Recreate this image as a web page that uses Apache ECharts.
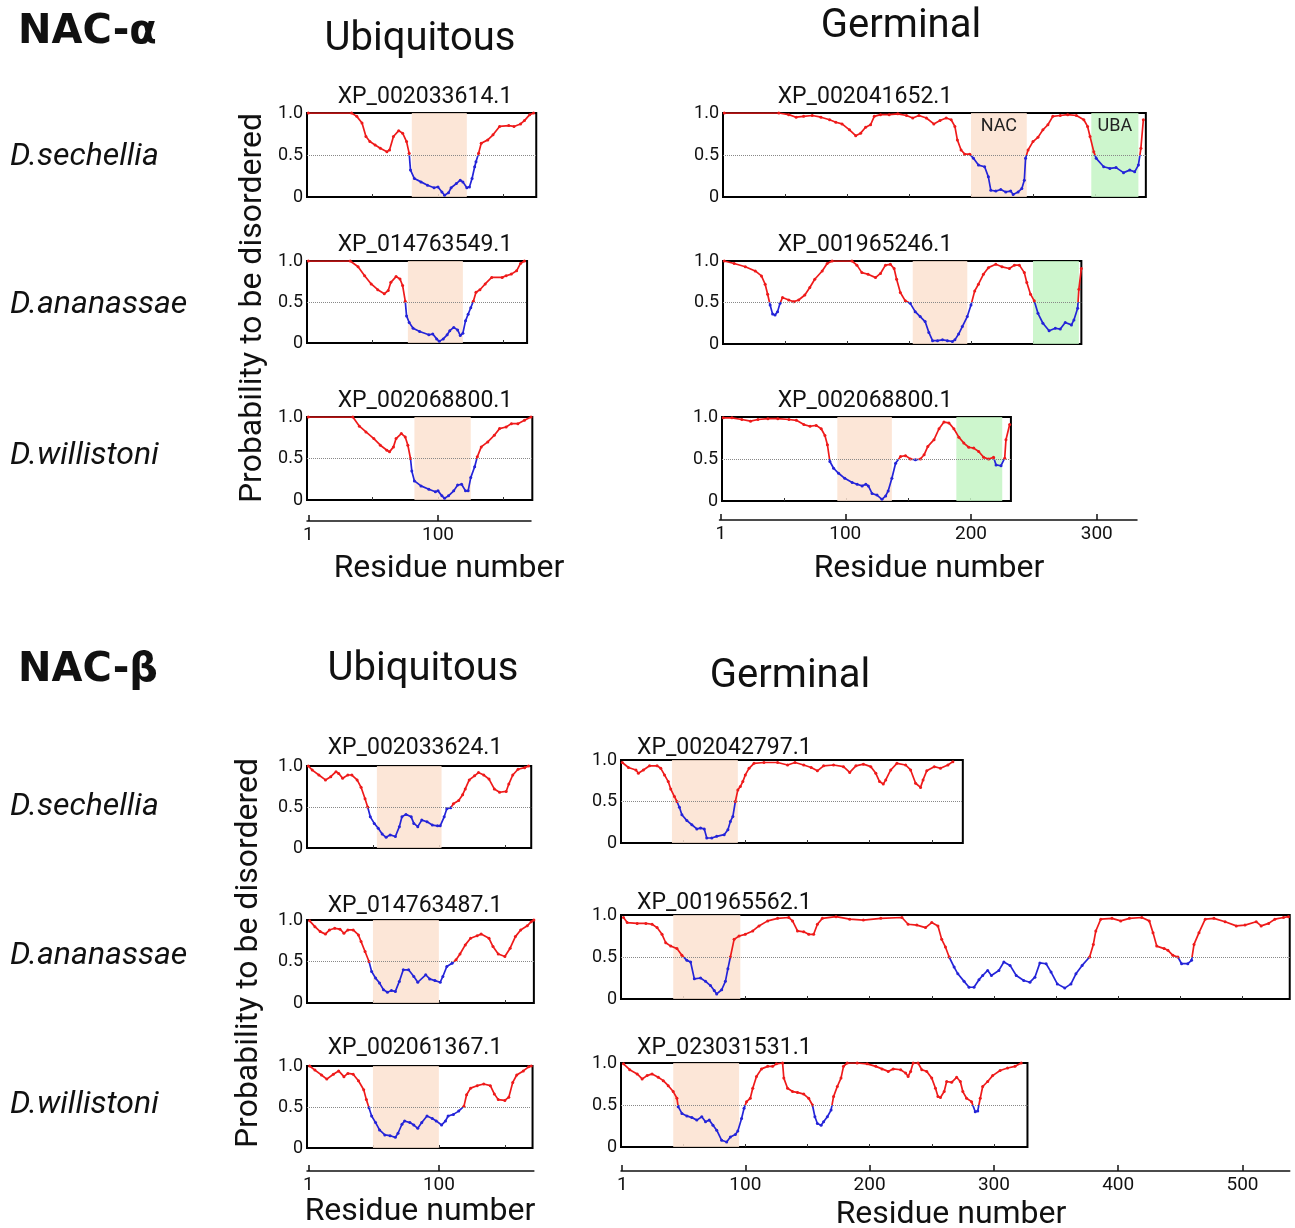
<!DOCTYPE html>
<html><head><meta charset="utf-8">
<script src="https://cdn.jsdelivr.net/npm/echarts@6/dist/echarts.min.js"></script>
<style>html,body{margin:0;padding:0;background:#fff}#c{width:1295px;height:1228px}</style>
</head><body><div id="c"></div>
<script>
// ---------------- DATA ----------------
const sectionTitles = ['NAC-α', 'NAC-β'];
const columnTitles = ['Ubiquitous', 'Germinal'];
const species = ['D.sechellia', 'D.ananassae', 'D.willistoni'];
const yTitle = 'Probability to be disordered';
const xTitle = 'Residue number';
const yTickLabels = {0: '0', 0.5: '0.5', 1: '1.0'};

const accessions = {
  aU1: 'XP_002033614.1', aU2: 'XP_014763549.1', aU3: 'XP_002068800.1',
  aG1: 'XP_002041652.1', aG2: 'XP_001965246.1', aG3: 'XP_002068800.1',
  bU1: 'XP_002033624.1', bU2: 'XP_014763487.1', bU3: 'XP_002061367.1',
  bG1: 'XP_002042797.1', bG2: 'XP_001965562.1', bG3: 'XP_023031531.1'
};
const proteinLength = {aU1:175, aU2:168, aU3:172, aG1:341, aG2:289, aG3:233,
  bU1:170, bU2:172, bU3:171, bG1:275, bG2:538, bG3:327};
const domains = {
  aU1: [[80,122,'NAC']], aU2: [[77,119,'NAC']], aU3: [[82,125,'NAC']],
  aG1: [[200,245,'NAC'],[297,335,'UBA']], aG2: [[153,197,'NAC'],[250,287,'UBA']], aG3: [[93,137,'NAC'],[189,226,'UBA']],
  bU1: [[53,102,'NAC']], bU2: [[50,100,'NAC']], bU3: [[50,100,'NAC']],
  bG1: [[41,94,'NAC']], bG2: [[42,96,'NAC']], bG3: [[42,95,'NAC']]
};
const domainLabelled = {aG1: true};
const axisTicksU = [1, 100];
const axisTicksAG = [1, 100, 200, 300];
const axisTicksBG = [1, 100, 200, 300, 400, 500];

// disorder profiles [residue, probability]
const aU1 = [[1,1.0],[34,1.0],[38,0.96],[42,0.88],[45,0.72],[48,0.66],[52,0.62],[56,0.58],[61,0.54],[63,0.56],[66,0.72],[70,0.79],[73,0.76],[76,0.66],[78,0.52],[79,0.32],[82,0.22],[87,0.18],[92,0.14],[97,0.11],[100,0.12],[103,0.06],[105,0.02],[108,0.05],[110,0.11],[114,0.16],[117,0.20],[119,0.18],[122,0.11],[124,0.12],[126,0.22],[128,0.36],[129,0.42],[131,0.52],[133,0.64],[138,0.68],[142,0.74],[147,0.84],[154,0.85],[158,0.84],[163,0.87],[166,0.91],[170,0.98],[173,1.0]];
const aU2 = [[1,1.0],[33,1.0],[39,0.93],[44,0.82],[49,0.72],[54,0.65],[59,0.60],[62,0.64],[64,0.74],[68,0.81],[71,0.78],[73,0.70],[75,0.51],[76,0.33],[78,0.25],[81,0.18],[86,0.14],[93,0.10],[96,0.11],[99,0.05],[101,0.02],[104,0.05],[107,0.10],[109,0.15],[112,0.19],[115,0.16],[117,0.09],[119,0.12],[121,0.27],[123,0.35],[125,0.43],[127,0.51],[129,0.62],[132,0.65],[136,0.72],[141,0.80],[149,0.80],[152,0.82],[156,0.84],[160,0.88],[163,0.97],[166,1.0]];
const aU3 = [[1,1.0],[35,1.0],[40,0.89],[45,0.82],[51,0.74],[56,0.66],[61,0.60],[63,0.58],[66,0.64],[68,0.74],[72,0.80],[75,0.76],[77,0.66],[79,0.50],[80,0.35],[82,0.23],[87,0.17],[93,0.13],[98,0.10],[100,0.11],[103,0.05],[105,0.02],[108,0.05],[112,0.11],[115,0.18],[118,0.19],[121,0.11],[123,0.11],[125,0.27],[128,0.40],[130,0.52],[133,0.64],[138,0.70],[143,0.78],[147,0.86],[152,0.88],[156,0.92],[161,0.92],[166,0.96],[171,1.0]];
const aG1 = [[1,1.0],[45,1.0],[53,0.98],[59,0.95],[65,0.96],[72,0.97],[79,0.95],[86,0.92],[91,0.89],[96,0.87],[102,0.80],[107,0.73],[111,0.76],[115,0.83],[119,0.86],[122,0.96],[127,0.98],[134,0.98],[141,0.99],[148,0.97],[153,0.94],[158,0.97],[164,0.94],[170,0.87],[175,0.91],[180,0.94],[184,0.92],[187,0.84],[189,0.68],[192,0.56],[195,0.51],[199,0.51],[202,0.46],[206,0.38],[211,0.36],[214,0.24],[216,0.08],[220,0.07],[224,0.09],[228,0.06],[232,0.07],[234,0.03],[238,0.06],[241,0.10],[243,0.20],[244,0.46],[246,0.56],[250,0.66],[254,0.71],[258,0.80],[262,0.86],[266,0.96],[272,0.97],[278,0.98],[285,0.97],[291,0.92],[294,0.84],[296,0.72],[299,0.54],[301,0.46],[307,0.36],[312,0.34],[317,0.35],[323,0.29],[328,0.32],[332,0.30],[335,0.38],[337,0.58],[339,0.92]];
const aG2 = [[1,1.0],[9,0.97],[18,0.93],[26,0.88],[31,0.82],[34,0.72],[36,0.60],[38,0.47],[40,0.36],[42,0.35],[44,0.39],[46,0.49],[48,0.56],[53,0.53],[57,0.51],[61,0.53],[66,0.59],[70,0.68],[74,0.78],[80,0.88],[84,0.97],[88,1.0],[104,1.0],[108,0.95],[112,0.86],[117,0.84],[123,0.80],[127,0.85],[131,0.95],[135,0.96],[138,0.91],[140,0.78],[143,0.62],[147,0.52],[151,0.49],[155,0.39],[159,0.33],[163,0.27],[166,0.14],[169,0.04],[173,0.04],[177,0.05],[181,0.04],[185,0.03],[187,0.05],[190,0.12],[193,0.21],[197,0.33],[200,0.47],[203,0.64],[206,0.72],[210,0.84],[214,0.92],[220,0.96],[225,0.93],[231,0.91],[235,0.95],[239,0.95],[243,0.86],[245,0.74],[248,0.60],[251,0.52],[254,0.37],[258,0.25],[263,0.16],[268,0.19],[272,0.18],[276,0.26],[281,0.23],[283,0.29],[286,0.43],[287,0.66],[289,0.91]];
const aG3 = [[1,0.99],[8,0.99],[16,0.97],[23,0.95],[29,0.97],[37,0.98],[45,0.98],[54,0.97],[60,0.96],[66,0.91],[71,0.89],[76,0.90],[80,0.86],[83,0.78],[85,0.67],[87,0.47],[90,0.39],[94,0.33],[99,0.27],[105,0.22],[109,0.20],[113,0.18],[116,0.20],[118,0.18],[121,0.09],[125,0.07],[129,0.02],[132,0.06],[134,0.12],[137,0.27],[140,0.45],[144,0.53],[148,0.54],[152,0.50],[156,0.49],[160,0.50],[163,0.55],[166,0.65],[171,0.73],[175,0.86],[179,0.94],[183,0.93],[187,0.86],[191,0.76],[195,0.69],[199,0.64],[203,0.63],[207,0.59],[211,0.52],[215,0.50],[219,0.52],[221,0.43],[225,0.42],[228,0.51],[229,0.73],[232,0.91]];
const bU1 = [[1,1.0],[4,0.95],[9,0.89],[14,0.83],[18,0.87],[22,0.93],[24,0.91],[27,0.85],[31,0.89],[34,0.89],[38,0.83],[41,0.74],[44,0.60],[46,0.50],[48,0.38],[51,0.30],[54,0.24],[57,0.17],[60,0.13],[63,0.16],[67,0.14],[70,0.26],[72,0.38],[75,0.41],[79,0.38],[81,0.30],[84,0.26],[87,0.34],[91,0.32],[95,0.28],[99,0.27],[101,0.27],[104,0.38],[106,0.48],[109,0.49],[111,0.54],[115,0.58],[118,0.65],[120,0.72],[123,0.83],[127,0.88],[130,0.92],[134,0.89],[138,0.84],[142,0.72],[146,0.68],[151,0.69],[153,0.78],[156,0.89],[160,0.96],[165,0.98],[168,1.0]];
const bU2 = [[2,0.99],[6,0.92],[10,0.86],[14,0.83],[17,0.88],[21,0.90],[25,0.89],[28,0.84],[31,0.88],[35,0.88],[39,0.82],[41,0.74],[44,0.62],[47,0.50],[49,0.38],[52,0.30],[55,0.24],[58,0.16],[61,0.13],[64,0.15],[67,0.14],[70,0.26],[73,0.40],[77,0.40],[81,0.32],[84,0.25],[90,0.34],[93,0.29],[97,0.27],[101,0.25],[103,0.32],[106,0.44],[110,0.48],[113,0.52],[116,0.59],[120,0.70],[124,0.78],[129,0.81],[132,0.83],[138,0.78],[141,0.68],[145,0.59],[150,0.56],[154,0.66],[158,0.80],[162,0.88],[167,0.93],[170,0.98],[172,1.0]];
const bU3 = [[2,1.0],[6,0.95],[11,0.89],[15,0.84],[20,0.90],[24,0.94],[28,0.87],[31,0.91],[35,0.90],[39,0.82],[43,0.71],[45,0.59],[47,0.49],[49,0.39],[52,0.31],[55,0.22],[59,0.16],[63,0.15],[67,0.13],[69,0.18],[72,0.29],[74,0.33],[78,0.31],[81,0.28],[84,0.24],[87,0.31],[91,0.39],[95,0.36],[98,0.33],[102,0.28],[105,0.33],[107,0.39],[111,0.41],[115,0.45],[119,0.51],[121,0.65],[124,0.73],[129,0.76],[134,0.78],[139,0.76],[142,0.66],[145,0.59],[150,0.58],[153,0.62],[156,0.80],[159,0.89],[164,0.94],[168,0.99],[170,1.0]];
const bG1 = [[1,0.97],[6,0.91],[12,0.88],[14,0.84],[18,0.88],[23,0.93],[29,0.93],[32,0.90],[35,0.82],[38,0.74],[40,0.65],[43,0.56],[45,0.50],[47,0.43],[49,0.34],[53,0.27],[57,0.22],[61,0.17],[64,0.18],[67,0.17],[69,0.06],[73,0.06],[77,0.08],[83,0.10],[86,0.16],[88,0.26],[90,0.32],[92,0.50],[94,0.64],[96,0.68],[98,0.74],[100,0.82],[103,0.90],[107,0.96],[115,0.97],[126,0.97],[134,0.94],[140,0.97],[147,0.94],[153,0.91],[158,0.87],[163,0.93],[171,0.94],[179,0.92],[184,0.85],[189,0.93],[195,0.95],[201,0.92],[205,0.84],[208,0.74],[211,0.71],[213,0.76],[217,0.88],[222,0.96],[229,0.94],[233,0.88],[237,0.72],[241,0.67],[243,0.76],[246,0.87],[252,0.92],[257,0.90],[263,0.94],[267,0.98]];
const bG2 = [[2,0.97],[5,0.91],[13,0.90],[20,0.90],[25,0.89],[29,0.85],[33,0.77],[36,0.67],[40,0.63],[45,0.60],[49,0.52],[53,0.46],[56,0.44],[59,0.24],[64,0.25],[68,0.21],[72,0.16],[75,0.10],[77,0.06],[81,0.11],[84,0.21],[86,0.36],[88,0.50],[91,0.71],[95,0.75],[100,0.77],[106,0.81],[111,0.87],[118,0.93],[126,0.96],[135,0.97],[138,0.93],[142,0.81],[147,0.80],[151,0.77],[155,0.77],[158,0.89],[162,0.96],[173,0.98],[184,0.95],[195,0.94],[209,0.96],[226,0.97],[231,0.89],[238,0.88],[245,0.85],[250,0.91],[255,0.87],[258,0.71],[261,0.62],[264,0.50],[268,0.38],[271,0.30],[276,0.21],[280,0.14],[284,0.14],[288,0.23],[291,0.28],[295,0.34],[298,0.28],[304,0.34],[308,0.44],[313,0.40],[318,0.28],[324,0.22],[329,0.20],[333,0.26],[337,0.43],[342,0.42],[346,0.32],[351,0.18],[357,0.13],[362,0.18],[366,0.30],[371,0.40],[377,0.50],[380,0.65],[382,0.81],[386,0.95],[395,0.96],[402,0.93],[409,0.96],[419,0.97],[425,0.93],[428,0.79],[431,0.63],[437,0.60],[440,0.58],[444,0.52],[448,0.50],[451,0.42],[456,0.42],[459,0.46],[461,0.65],[465,0.79],[470,0.95],[477,0.96],[486,0.92],[495,0.87],[502,0.88],[511,0.92],[515,0.87],[521,0.90],[526,0.95],[533,0.97],[537,0.98]];
const bG3 = [[2,0.99],[7,0.92],[13,0.87],[17,0.81],[21,0.85],[25,0.87],[30,0.83],[34,0.79],[38,0.73],[42,0.66],[45,0.58],[46,0.48],[49,0.40],[53,0.37],[57,0.35],[61,0.32],[65,0.36],[68,0.30],[71,0.32],[74,0.26],[77,0.20],[81,0.08],[85,0.06],[88,0.12],[92,0.15],[94,0.19],[97,0.34],[99,0.46],[101,0.54],[104,0.58],[106,0.70],[109,0.84],[113,0.93],[118,0.96],[122,0.96],[125,0.99],[130,1.0],[131,0.82],[134,0.70],[138,0.66],[142,0.65],[147,0.63],[151,0.58],[154,0.50],[156,0.36],[158,0.28],[161,0.26],[163,0.30],[166,0.36],[169,0.44],[171,0.60],[174,0.72],[177,0.82],[179,0.96],[182,1.0],[190,1.0],[198,0.99],[205,0.96],[210,0.93],[215,0.90],[219,0.93],[225,0.92],[229,0.88],[231,0.84],[233,0.90],[235,1.0],[239,1.0],[242,0.92],[246,0.90],[250,0.82],[253,0.70],[255,0.60],[257,0.59],[260,0.66],[262,0.78],[266,0.77],[270,0.83],[273,0.78],[275,0.66],[278,0.58],[282,0.54],[285,0.42],[287,0.43],[289,0.58],[291,0.72],[295,0.78],[299,0.85],[305,0.91],[311,0.94],[317,0.96],[322,1.0]];
const profiles = {aU1, aU2, aU3, aG1, aG2, aG3, bU1, bU2, bU3, bG1, bG2, bG3};
const threshold = 0.5;

// ---------------- LAYOUT (positions / styles) ----------------
const colScale = {aU:1.31, aG:1.24, bU:1.319, bG:1.243};
const panelLayout = {
  aU1:{left:307, top:113, h:84, tx:425, ty:97, ta:'center'},
  aU2:{left:307, top:261, h:82, tx:425, ty:245, ta:'center'},
  aU3:{left:307, top:417, h:83, tx:425, ty:401, ta:'center'},
  aG1:{left:723, top:113, h:84, tx:865, ty:97, ta:'center'},
  aG2:{left:723, top:261, h:83, tx:865, ty:245, ta:'center'},
  aG3:{left:722, top:417, h:84, tx:865, ty:401, ta:'center'},
  bU1:{left:307, top:766, h:82, tx:415, ty:748, ta:'center'},
  bU2:{left:307, top:920, h:83, tx:415, ty:906, ta:'center'},
  bU3:{left:307, top:1066, h:82, tx:415, ty:1048, ta:'center'},
  bG1:{left:621, top:760, h:83, tx:637, ty:748, ta:'left'},
  bG2:{left:621, top:915, h:84, tx:637, ty:903, ta:'left'},
  bG3:{left:621, top:1063, h:84, tx:637, ty:1048, ta:'left'}
};
const axisLayout = [
  {left:307, y:521, max:171, scale:1.31, ticks:axisTicksU, tx:449, ty:569},
  {left:719.5, y:520, max:332, scale:1.2575, ticks:axisTicksAG, tx:929, ty:569},
  {left:307, y:1171, max:172, scale:1.319, ticks:axisTicksU, tx:420, ty:1212},
  {left:621, y:1171, max:538, scale:1.243, ticks:axisTicksBG, tx:951, ty:1215}
];
const RED = '#ee1a1a', BLUE = '#2424d8', INK = '#111';
const domainColor = {NAC:'rgba(252,226,208,0.85)', UBA:'rgba(196,244,196,0.85)'};
const FONT = 'Roboto, "Noto Sans", sans-serif';

const grids = [], xAxes = [], yAxes = [], series = [], graphics = [];
const ids = Object.keys(profiles);
ids.forEach((id, i) => {
  const L = proteinLength[id], lay = panelLayout[id];
  const sc = colScale[id.slice(0,2)];
  grids.push({left:lay.left, top:lay.top, width:L*sc, height:lay.h, show:true,
    borderColor:'#000', borderWidth:2, backgroundColor:'transparent', containLabel:false});
  const minor = []; for (let t = 50; t < L; t += 50) minor.push(t);
  xAxes.push({type:'value', gridIndex:i, min:0, max:L,
    axisLine:{show:false}, axisLabel:{show:false}, splitLine:{show:false},
    axisTick:{show:true, inside:true, length:3, customValues:minor, lineStyle:{color:'#333'}}});
  yAxes.push({type:'value', gridIndex:i, min:0, max:1, interval:0.5,
    axisLine:{show:false}, axisTick:{show:false}, splitLine:{show:false},
    axisLabel:{fontSize:18, color:INK, fontFamily:FONT, margin:4,
      formatter: v => yTickLabels[v]}});
  // threshold (y = 0.5) sits at the vertical middle of the grid: split colours there
  const lineGrad = {type:'linear', x:0, y:lay.top, x2:0, y2:lay.top + lay.h, global:true,
    colorStops:[{offset:0, color:RED}, {offset:0.5, color:RED}, {offset:0.5, color:BLUE}, {offset:1, color:BLUE}]};
  series.push({type:'line', xAxisIndex:i, yAxisIndex:i,
    data:profiles[id].map(p => ({value:p, itemStyle:{color: p[1] >= threshold ? RED : BLUE}})),
    showSymbol:true, symbol:'circle', symbolSize:3, lineStyle:{width:1.7, color:lineGrad},
    itemStyle:{color:RED}, animation:false, z:3,
    markLine:{silent:true, symbol:['none','none'], label:{show:false},
      lineStyle:{type:'dotted', color:'#888', width:1}, data:[{yAxis:threshold}]},
    markArea:{silent:true, data: domains[id].map(d => [
      {xAxis:d[0], itemStyle:{color:domainColor[d[2]]},
       label:{show:!!domainLabelled[id], position:'insideTop', formatter:d[2],
         fontSize:18, color:'#222', fontFamily:FONT, distance:4}},
      {xAxis:d[1]}])}
  });
  graphics.push({type:'text', x:lay.tx, y:lay.ty, style:{text:accessions[id],
    fontSize:23, fontFamily:FONT, fill:INK, align:lay.ta, verticalAlign:'middle',
    textAlign:lay.ta, textVerticalAlign:'middle'}});
});

// shared residue axes
axisLayout.forEach((a, k) => {
  const gi = grids.length;
  grids.push({left:a.left, top:a.y - 1, width:a.max*a.scale, height:1, show:false});
  xAxes.push({type:'value', gridIndex:gi, min:0, max:a.max, position:'bottom',
    axisLine:{show:true, lineStyle:{color:INK, width:1.5}}, splitLine:{show:false},
    axisTick:{show:true, inside:true, length:6, customValues:a.ticks, lineStyle:{color:INK, width:1.5}},
    axisLabel:{show:true, customValues:a.ticks, fontSize:19, color:INK, fontFamily:FONT, margin:5}});
  yAxes.push({type:'value', gridIndex:gi, show:false, min:0, max:1});
  graphics.push({type:'text', x:a.tx, y:a.ty, style:{text:xTitle, fontSize:32,
    fontFamily:FONT, fill:INK, align:'center', verticalAlign:'middle',
    textAlign:'center', textVerticalAlign:'middle'}});
});

function txt(x, y, s, size, opts) {
  opts = opts || {};
  graphics.push({type:'text', x:x, y:y, rotation:opts.rot || 0, style:{text:s, fontSize:size,
    fontFamily:opts.family || FONT, fontWeight:opts.weight || 'normal', fontStyle:opts.style || 'normal',
    fill:INK, align:opts.align || 'center', verticalAlign:'middle',
    textAlign:opts.align || 'center', textVerticalAlign:'middle'}});
}
txt(18, 33, sectionTitles[0], 40, {align:'left', weight:'bold', family:'"DejaVu Sans", sans-serif'});
txt(18, 671, sectionTitles[1], 40, {align:'left', weight:'bold', family:'"DejaVu Sans", sans-serif'});
txt(420, 40, columnTitles[0], 40);
txt(901, 27, columnTitles[1], 40);
txt(423, 670, columnTitles[0], 40);
txt(790, 677, columnTitles[1], 40);
[157, 305, 456].forEach((y, k) => txt(10, y, species[k], 32, {align:'left', style:'italic'}));
[807, 956, 1105].forEach((y, k) => txt(10, y, species[k], 32, {align:'left', style:'italic'}));
txt(253, 308, yTitle, 32, {rot:Math.PI/2});
txt(249, 953, yTitle, 32, {rot:Math.PI/2});

const chart = echarts.init(document.getElementById('c'));
chart.setOption({
  animation:false,
  backgroundColor:'#fff',
  grid:grids, xAxis:xAxes, yAxis:yAxes, series:series, graphic:graphics
});
</script>
</body></html>
